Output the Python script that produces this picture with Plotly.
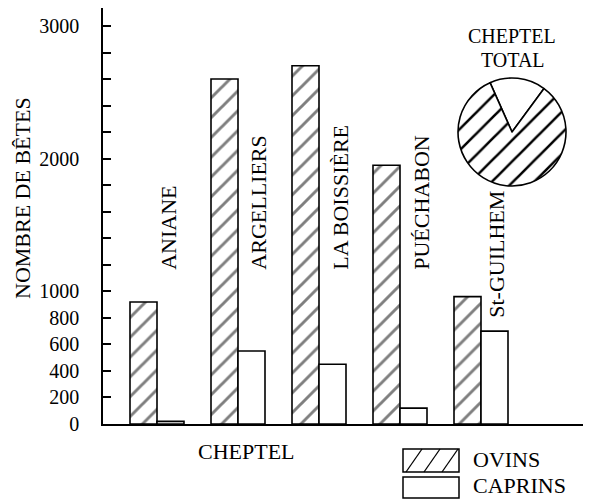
import plotly.graph_objects as go

# ---- data ----
communes = ["ANIANE", "ARGELLIERS", "LA BOISSIÈRE", "PUÉCHABON", "St-GUILHEM"]
ovins = [920, 2600, 2700, 1950, 960]
caprins = [20, 550, 450, 120, 700]
tick_vals = list(range(0, 3001, 200))
tick_labels = ["0", "200", "400", "600", "800", "1000", "", "", "", "",
               "2000", "", "", "", "", "3000"]
series_names = ["OVINS", "CAPRINS"]

# ---- layout-only placement of the rotated commune labels ----
label_base = [1150, 1150, 1150, 1150, 785]
label_dx = [0.14, 0.25, 0.27, 0.27, 0.19]

FONT = "Liberation Serif"
OFF = 8  # page body margin
W, H = 591 - OFF, 499 - OFF
AX_L, AX_B, AX_T = 103, 424, 8
ML = AX_L - OFF
MT = AX_T - OFF
MB = (499 - OFF) - (AX_B - OFF)
MR = 0
PW = W - ML - MR
PH = H - MT - MB

def px(x):
    return (x - OFF - ML) / PW

def py(y):
    return (H - MB - (y - OFF)) / PH

x_idx = list(range(len(communes)))
unit = 81.0
x0 = -54.0 / unit
x1 = x0 + PW / unit
y_top = 3000 * PH / 398.0

fig = go.Figure()
fig.add_trace(go.Bar(
    x=x_idx, y=ovins, name=series_names[0], showlegend=False,
    marker=dict(color="white", line=dict(color="black", width=1.6),
                pattern=dict(shape="/", fgcolor="black", bgcolor="white",
                             size=14, solidity=0.21)),
    hoverinfo="skip"))
fig.add_trace(go.Bar(
    x=x_idx, y=caprins, name=series_names[1], showlegend=False,
    marker=dict(color="white", line=dict(color="black", width=1.6)),
    hoverinfo="skip"))

# pie of total herd
tot = [sum(caprins), sum(ovins)]
pcx, pcy, pr = 512, 132, 54
fig.add_trace(go.Pie(
    values=tot, labels=[series_names[1], series_names[0]], sort=False,
    direction="clockwise", rotation=-24, textinfo="none", showlegend=False,
    hoverinfo="skip",
    marker=dict(colors=["white", "white"], line=dict(color="black", width=1.6),
                pattern=dict(shape=["", "/"], fgcolor="black", bgcolor="white",
                             size=15, solidity=0.17)),
    domain=dict(x=[px(pcx - pr), px(pcx + pr)], y=[py(pcy + pr), py(pcy - pr)])))

fig.update_layout(
    width=W, height=H,
    margin=dict(l=ML, r=MR, t=MT, b=MB, pad=0),
    paper_bgcolor="white", plot_bgcolor="white",
    barmode="group", bargap=1/3, bargroupgap=0,
    font=dict(family=FONT, color="black", size=22),
    xaxis=dict(range=[x0, x1], showline=True, linecolor="black", linewidth=1.6,
               showgrid=False, zeroline=False, showticklabels=False, ticks=""),
    yaxis=dict(range=[0, y_top], showline=True, linecolor="black", linewidth=1.6,
               showgrid=False, zeroline=False, tickvals=tick_vals,
               ticktext=tick_labels, ticks="inside", ticklen=8, tickwidth=1.5,
               tickcolor="black", tickfont=dict(family=FONT, size=20),
               ticklabelstandoff=18),
)

TS = 22
ann = []
# commune labels above bars
for i, name in enumerate(communes):
    ann.append(dict(x=i + label_dx[i], y=label_base[i], xref="x", yref="y",
                    text=name, textangle=-90, showarrow=False,
                    xanchor="center", yanchor="bottom",
                    font=dict(family=FONT, size=TS)))
# axis titles
ann.append(dict(x=px(22), y=py(198), xref="paper", yref="paper",
                text="NOMBRE DE BÊTES", textangle=-90, showarrow=False,
                xanchor="center", yanchor="middle", font=dict(family=FONT, size=TS)))
ann.append(dict(x=px(246), y=py(451), xref="paper", yref="paper",
                text="CHEPTEL", showarrow=False,
                xanchor="center", yanchor="middle", font=dict(family=FONT, size=TS)))
# pie title
ann.append(dict(x=px(512), y=py(36), xref="paper", yref="paper", text="CHEPTEL",
                showarrow=False, xanchor="center", yanchor="middle",
                font=dict(family=FONT, size=20)))
ann.append(dict(x=px(513), y=py(60), xref="paper", yref="paper", text="TOTAL",
                showarrow=False, xanchor="center", yanchor="middle",
                font=dict(family=FONT, size=20)))
# legend texts
ann.append(dict(x=px(471), y=py(460), xref="paper", yref="paper", text=series_names[0],
                showarrow=False, xanchor="left", yanchor="middle",
                font=dict(family=FONT, size=TS)))
ann.append(dict(x=px(471), y=py(486), xref="paper", yref="paper", text=series_names[1],
                showarrow=False, xanchor="left", yanchor="middle",
                font=dict(family=FONT, size=TS)))

shapes = []
# legend boxes
shapes.append(dict(type="rect", xref="paper", yref="paper",
                   x0=px(403), x1=px(459), y0=py(472), y1=py(449),
                   line=dict(color="black", width=1.5), fillcolor="white"))
shapes.append(dict(type="rect", xref="paper", yref="paper",
                   x0=px(403), x1=px(459), y0=py(498), y1=py(477),
                   line=dict(color="black", width=1.5), fillcolor="white"))
for bx in (406, 424, 442):
    shapes.append(dict(type="line", xref="paper", yref="paper",
                       x0=px(bx), y0=py(472), x1=px(bx + 16), y1=py(449),
                       line=dict(color="black", width=1.3)))
fig.update_layout(annotations=ann, shapes=shapes)

fig.write_html("out.html")
